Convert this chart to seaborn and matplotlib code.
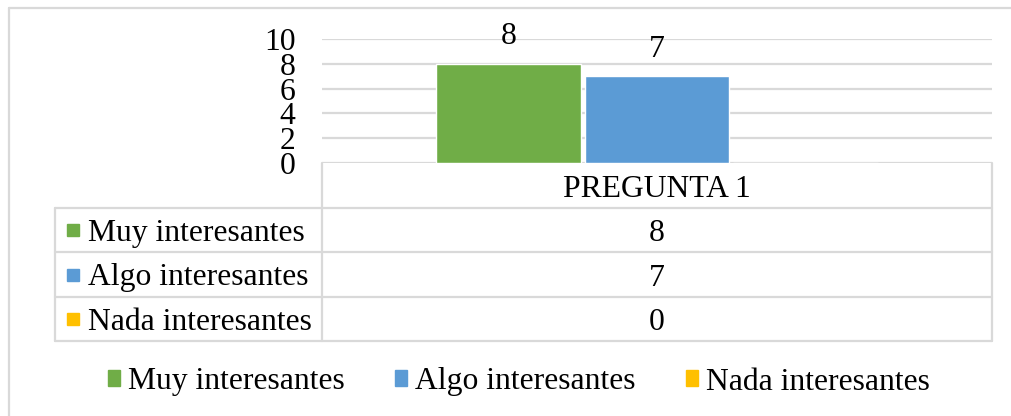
import matplotlib
matplotlib.use('Agg')
import matplotlib.pyplot as plt
import matplotlib.patches as mpatches
import seaborn as sns
import pandas as pd

# Dati del grafico
categorias = ['PREGUNTA 1']
series = ['Muy interesantes', 'Algo interesantes', 'Nada interesantes']
valores = [8, 7, 0]
colores = ['#70AD47', '#5B9BD5', '#FFC000']
y_ticks = [0, 2, 4, 6, 8, 10]

GRIS = '#D9D9D9'
FS = 22.8

sns.set_theme(style='white')
plt.rcParams['font.family'] = ['Liberation Serif', 'DejaVu Serif']
plt.rcParams['text.color'] = '#000000'

W, H = 1011, 416
fig = plt.figure(figsize=(W / 100, H / 100), dpi=100)

# area del grafico (pixel)
px_l, px_r, px_t, px_b = 322, 992, 39, 163
ax = fig.add_axes([px_l / W, 1 - px_b / H, (px_r - px_l) / W, (px_b - px_t) / H])
ax.set_facecolor('none')

df = pd.DataFrame({'categoria': categorias * len(series), 'serie': series, 'valor': valores})
sns.barplot(data=df, x='categoria', y='valor', hue='serie', hue_order=series,
            palette=colores, width=0.665, gap=0.03, saturation=1, legend=False, ax=ax, zorder=3)

ax.set_xlim(-0.5, 0.5)
ax.set_ylim(0, 10)
ax.set_yticks(y_ticks)
ax.set_yticklabels([str(t) for t in y_ticks], fontsize=FS, color='#000000')
ax.tick_params(axis='y', length=0, pad=19)
ax.set_xticks([])
ax.set_xlabel('')
ax.set_ylabel('')
for s in ax.spines.values():
    s.set_visible(False)
ax.grid(axis='y', color=GRIS, linewidth=1.6, zorder=0)
ax.set_axisbelow(True)

for cont, v in zip(ax.containers, valores):
    ax.bar_label(cont, labels=[f'{v:g}' if v else ''], padding=9, fontsize=FS, color='#000000')

# tabla de datos y marco (capa superior en pixel)
ov = fig.add_axes([0, 0, 1, 1])
ov.set_xlim(0, W)
ov.set_ylim(H, 0)
ov.axis('off')
ov.patch.set_visible(False)

lw = 1.6
tab_l = 55
filas = [163, 208, 252, 297, 341]
# marco exterior
ov.plot([9, 9], [8, H], color=GRIS, lw=lw)
ov.plot([9, W], [8, 8], color=GRIS, lw=lw)
# encabezado
ov.plot([px_l, px_l], [filas[0], filas[-1]], color=GRIS, lw=lw)
ov.plot([px_r, px_r], [filas[0], filas[-1]], color=GRIS, lw=lw)
ov.plot([tab_l, tab_l], [filas[1], filas[-1]], color=GRIS, lw=lw)
for yy in filas[1:]:
    ov.plot([tab_l, px_r], [yy, yy], color=GRIS, lw=lw)

xc = (px_l + px_r) / 2
ov.text(xc, filas[1] - 11, categorias[0], ha='center', va='baseline', fontsize=FS)
for i, (s, v, c) in enumerate(zip(series, valores, colores)):
    mid = (filas[i + 1] + filas[i + 2]) / 2
    ov.add_patch(mpatches.Rectangle((67, mid - 6), 12, 12, color=c))
    ov.text(88, mid + 11, s, ha='left', va='baseline', fontsize=FS)
    ov.text(xc, mid + 11, f'{v:g}', ha='center', va='baseline', fontsize=FS)

# leyenda inferior
handles = [mpatches.Patch(color=c, label=s) for s, c in zip(series, colores)]
fig.legend(handles=handles, loc='center', bbox_to_anchor=(519 / W, 1 - 382 / H),
           ncol=3, frameon=False, fontsize=FS, handlelength=0.38, handleheight=0.38,
           handletextpad=0.25, columnspacing=1.6, borderpad=0)

fig.savefig('out.png', dpi=100)
